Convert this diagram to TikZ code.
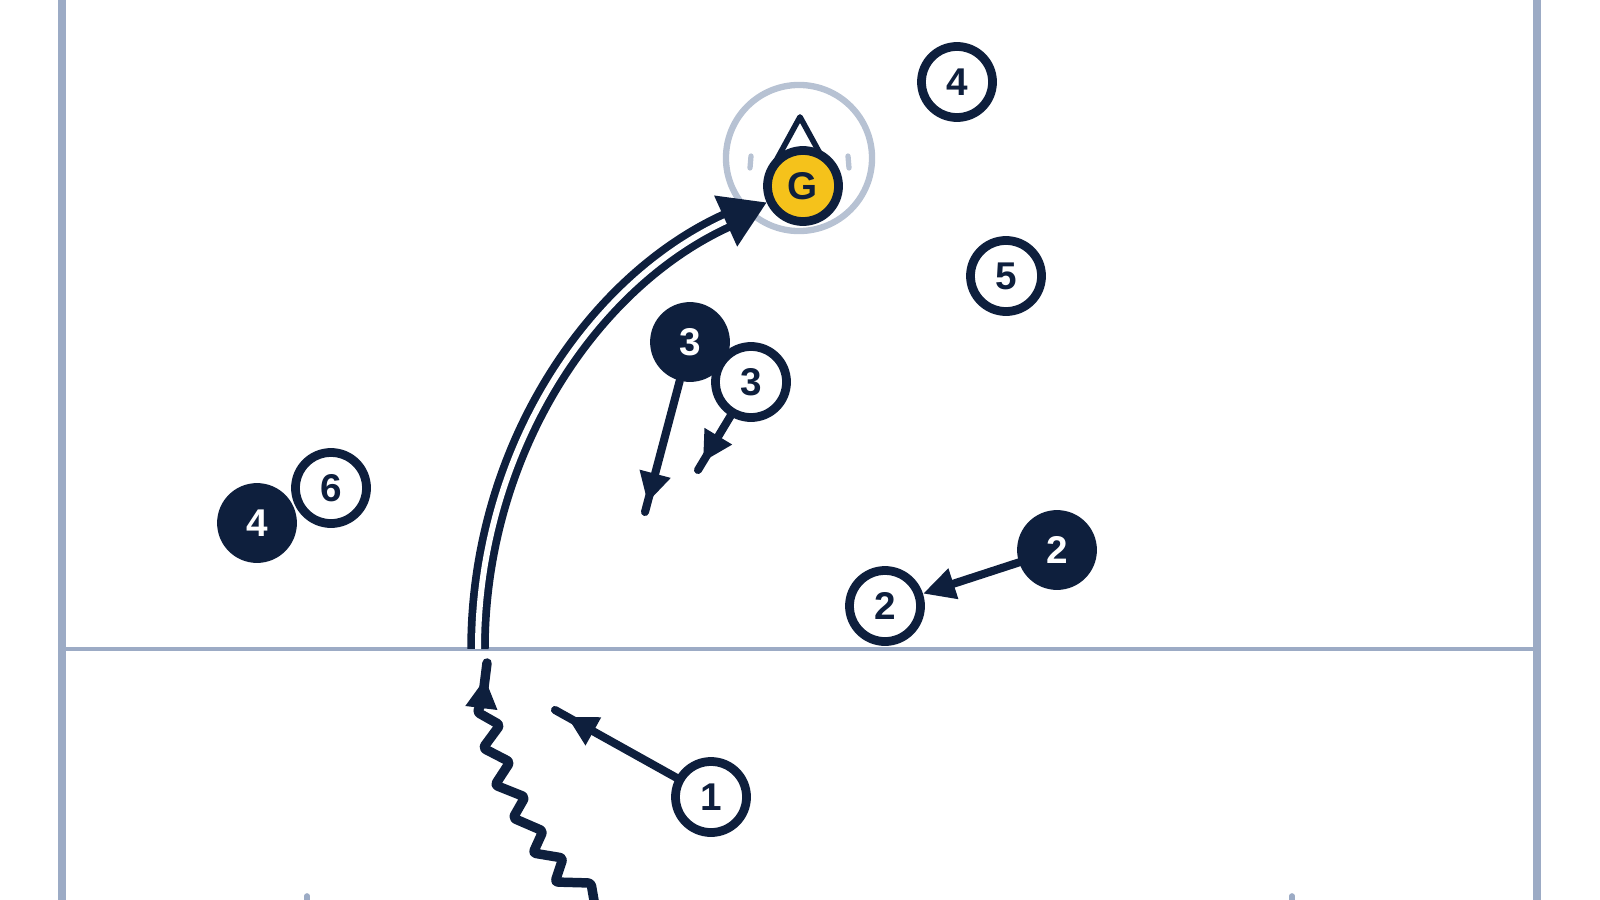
\documentclass[tikz,border=0pt]{standalone}
\usepackage{fontspec}
\setmainfont{Liberation Sans}
\usepackage{tikz}
\usetikzlibrary{arrows.meta,decorations.markings}

\definecolor{navy}{HTML}{0E1F3D}
\definecolor{fieldline}{HTML}{9CABC5}
\definecolor{creaseline}{HTML}{B7C2D3}
\definecolor{gold}{HTML}{F5C21B}

\begin{document}
\begin{tikzpicture}[x=0.01cm, y=-0.01cm,
    player/.style={circle, draw=navy, line width=2.5pt, minimum size=0.71cm, inner sep=0pt, font=\fontsize{11pt}{12pt}\selectfont\bfseries},
    offense/.style={player, fill=white, text=navy},
    defense/.style={player, fill=navy, text=white},
    move/.style={draw=navy, line width=2.3pt, line cap=round},
    tipat/.style={postaction={decorate, decoration={markings, mark=at position #1 with {\arrow{Triangle[length=0.3cm, width=0.3cm]}}}}}]
    \useasboundingbox (0,0) rectangle (1600,900);

    % field
    \draw [fieldline, line width=2.3pt] (62,-10) -- (62,910);
    \draw [fieldline, line width=2.3pt] (1537,-10) -- (1537,910);
    \draw [fieldline, line width=1.4pt] (62,649) -- (1537,649);
    \draw [fieldline, line width=1.6pt, line cap=round] (307,896) -- (307,910);
    \draw [fieldline, line width=1.6pt, line cap=round] (1292,896) -- (1292,910);

    % crease and goal
    \node (creasering) [circle, draw=creaseline, line width=1.8pt, minimum size=1.46cm] at (799,158) {};
    \draw [navy, line width=1.6pt, fill=white, line join=round] (800,117) -- (829,170) -- (771,170) -- cycle;
    \draw [creaseline, line width=1.5pt, line cap=round] (751,156) -- (750,168);
    \draw [creaseline, line width=1.5pt, line cap=round] (848,156) -- (849,168);

    \node (goalie) [player, fill=gold, text=navy] at (803,186) {G};
    \node (o4) [offense] at (957,82) {4};
    \node (o5) [offense] at (1006,276) {5};
    \node (d3) [defense] at (690,342) {3};
    \node (o3) [offense] at (751,382) {3};
    \node (o6) [offense] at (331,488) {6};
    \node (d4) [defense] at (257,523) {4};
    \node (d2) [defense] at (1057,550) {2};
    \node (o2) [offense] at (885,606) {2};
    \node (o1) [offense] at (711,797) {1};

    \coordinate (d3end) at (645,512);
    \coordinate (o3end) at (698,470);
    \coordinate (o1end) at (555,710);
    \coordinate (dodgestart) at (596,912);
    \coordinate (dodgetop) at (482,703);
    \coordinate (dodgeend) at (487,663);
    \coordinate (passstart) at (478,649);

    \draw [move, tipat=0.93] (d3) -- (d3end);
    \draw [move, tipat=0.85] (o3) -- (o3end);
    \draw [move, -{Triangle[length=0.32cm, width=0.3cm]}] (d2) -- (o2);
    \draw [move, tipat=0.9] (o1) -- (o1end);

    % dodge
    \draw [move, line width=2.7pt, line join=round, rounded corners=0.03cm] (dodgestart) -- (591,883) -- (555,882) -- (563,858) -- (533,853)
        -- (543,831) -- (513,818) -- (525,797) -- (495,785) -- (510,762) -- (483,748) -- (500,725) -- (477,712) -- (dodgetop);
    \draw [move, line width=2.7pt, tipat=0.62] (dodgetop) -- (dodgeend);

    % shot
    \draw [draw=navy, line width=2.2pt, double=white, double distance=0.06cm, -{Triangle[length=0.45cm, width=0.54cm]}] (passstart) .. controls (478,452) and (591,282) .. (goalie);
\end{tikzpicture}
\end{document}
